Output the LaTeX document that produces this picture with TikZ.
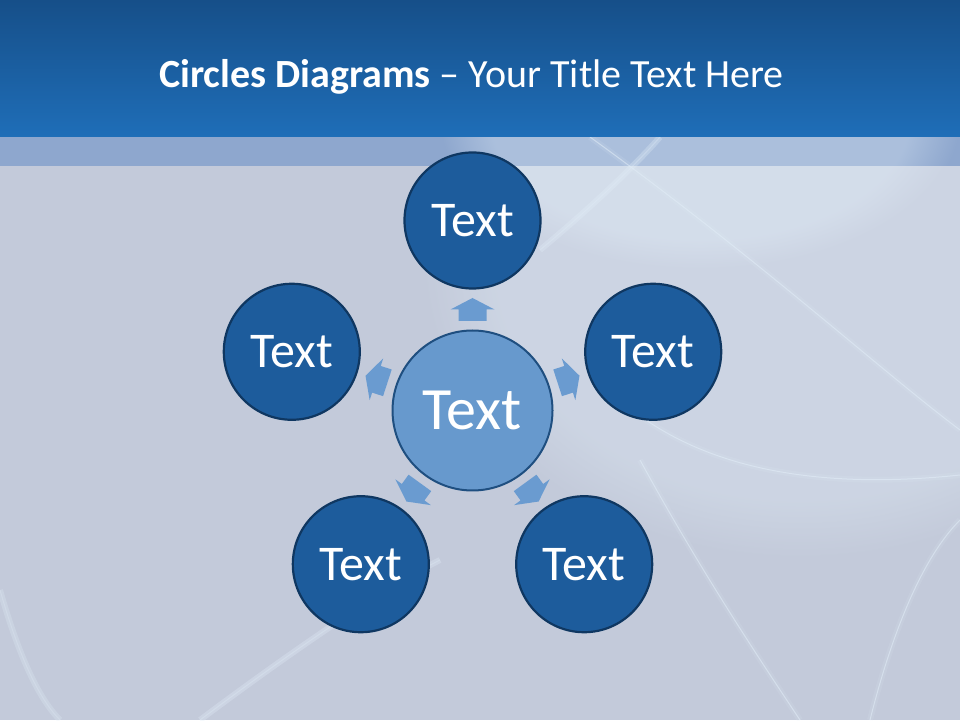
\documentclass[tikz,border=0pt]{standalone}
\usepackage{fontspec}
\setmainfont{Carlito}
\usetikzlibrary{fadings}
\definecolor{barTop}{HTML}{164F89}
\definecolor{barBot}{HTML}{1F6EB8}
\definecolor{bandBlue}{HTML}{8EA7CE}
\definecolor{bgGray}{HTML}{C3CADA}
\definecolor{leafBlue}{HTML}{1D5C9C}
\definecolor{leafEdge}{HTML}{0F3761}
\definecolor{hubBlue}{HTML}{6799CD}
\definecolor{hubEdge}{HTML}{1F4F80}
\definecolor{arrowBlue}{HTML}{6A9BD0}
\definecolor{glowBlue}{HTML}{E2EEF8}

\begin{document}
\begin{tikzpicture}[x=1pt,y=1pt,
 leaf/.style={circle,minimum size=136pt,inner sep=0pt,fill=leafBlue,draw=leafEdge,line width=2.2pt,text=white,font=\fontsize{50}{50}\selectfont},
 hub/.style={circle,minimum size=160pt,inner sep=0pt,fill=hubBlue,draw=hubEdge,line width=2pt,text=white,font=\fontsize{60}{60}\selectfont},
 streak/.style={glowBlue,line width=1pt,opacity=0.55},
 haze/.style={glowBlue,line width=6pt,opacity=0.12},
 glow/.style={glowBlue,path fading=circle with fuzzy edge 20 percent}]
\useasboundingbox (0,0) rectangle (960,720);
\fill[bgGray] (0,0) rectangle (960,583);
\fill[glow,opacity=0.3] (800,460) ellipse (380 and 300);
\fill[bandBlue] (0,554) rectangle (960,583);
\begin{scope}
\clip (0,0) rectangle (960,583);
\fill[glow,opacity=0.35] (700,600) ellipse (260 and 150);
\foreach \s in {streak,haze} {
 \draw[\s] (590,583) .. controls (760,460) and (880,350) .. (960,290);
 \draw[\s] (620,320) .. controls (700,250) and (820,230) .. (960,245);
 \draw[\s] (640,260) .. controls (700,150) and (760,60) .. (800,0);
 \draw[\s] (870,0) .. controls (890,80) and (920,160) .. (960,200);
 \draw[\s,opacity=0.3] (200,0) .. controls (280,60) and (380,130) .. (440,160);
 \draw[\s,opacity=0.25] (0,130) .. controls (20,60) and (40,20) .. (60,0);
 \draw[\s,opacity=0.3] (540,470) .. controls (600,520) and (640,560) .. (660,583);
}
\end{scope}
\shade[top color=barTop,bottom color=barBot] (0,583) rectangle (960,720);
\node[text=white,font=\fontsize{40}{40}\selectfont,anchor=base] (title) at (471.5,632)
 {\textbf{Circles Diagrams} -- Your Title Text Here};

\node[hub] (mid) at (472.5,309.5) {Text};
\foreach \a/\n in {90/top,162/left,234/botl,306/botr,18/right}
 \node[leaf] (\n) at ([shift={(\a:190)}]mid.center) {Text};
\foreach \a in {90,162,234,306,18}
 \fill[arrowBlue,shift={(mid.center)},rotate=\a-90]
  (-14,89.5) -- (-14,101) -- (-22,101) -- (0,112.5) -- (22,101) -- (14,101) -- (14,89.5) -- cycle;
\end{tikzpicture}
\end{document}
